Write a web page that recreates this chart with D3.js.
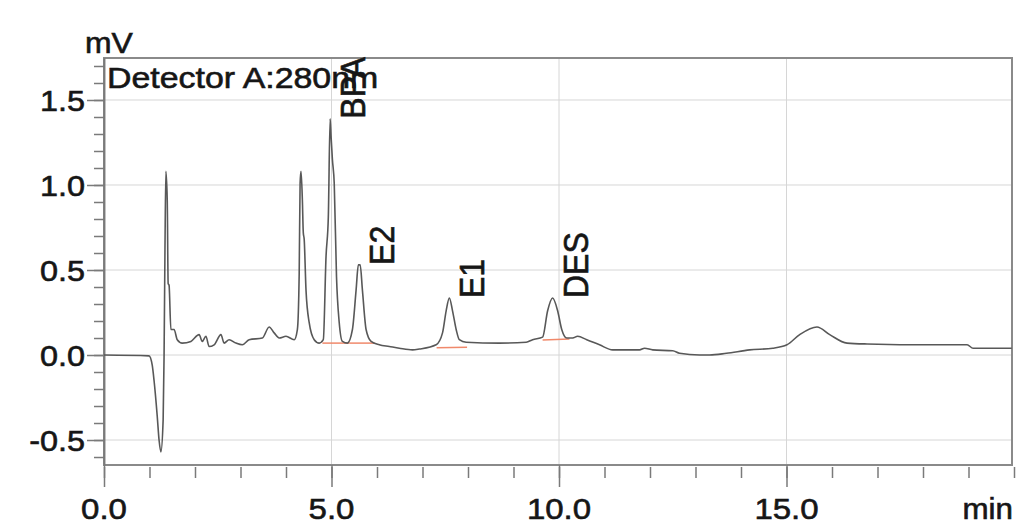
<!DOCTYPE html>
<html>
<head>
<meta charset="utf-8">
<script src="https://cdnjs.cloudflare.com/ajax/libs/d3/7.8.5/d3.min.js"></script>
<style>
body { margin: 0; background: #fff; }
text { font-family: "Liberation Sans", Arial, sans-serif; fill: #161616; stroke: #161616; stroke-width: 0.6; }
.grid line { stroke: #d6d6d6; stroke-width: 1; }
.axis path, .axis line { stroke: #7a7a7a; stroke-width: 1.5; }
.trace { fill: none; stroke: #585858; stroke-width: 1.6; stroke-linejoin: round; }
.base { stroke: #f0896b; stroke-width: 1.5; }
</style>
</head>
<body>
<script>
// Chromatogram trace (min, mV)
var times = [0, 0.99, 1.06, 1.10, 1.17, 1.21, 1.25, 1.30, 1.32, 1.34, 1.36, 1.39, 1.41, 1.43, 1.47,
    1.54, 1.61, 1.72, 1.91, 2.09, 2.16, 2.24, 2.31, 2.42, 2.57, 2.64, 2.75, 2.90, 3.04, 3.19,
    3.48, 3.63, 3.74, 3.85, 4.00, 4.18, 4.25, 4.29, 4.31, 4.33, 4.36, 4.38, 4.40, 4.44, 4.51,
    4.62, 4.73, 4.82, 4.88, 4.93, 4.97, 4.99, 5.02, 5.06, 5.11, 5.17, 5.24, 5.35, 5.46, 5.54,
    5.59, 5.63, 5.68, 5.76, 5.87, 6.05, 6.27, 6.49, 6.78, 6.93, 7.30, 7.44, 7.52, 7.59, 7.66,
    7.74, 7.81, 7.96, 8.69, 9.28, 9.42, 9.64, 9.75, 9.86, 9.97, 10.06, 10.17, 10.30, 10.41,
    10.61, 10.89, 11.18, 11.77, 11.88, 12.06, 12.50, 12.65, 13.09, 13.31, 13.68, 14.19, 14.70,
    15.01, 15.29, 15.67, 15.95, 16.33, 16.77, 18.22, 18.97, 19.10, 19.95];
var signal = [0, -0.005, -0.06, -0.15, -0.36, -0.50, -0.57, -0.38, -0.01, 0.62, 1.08, 0.91, 0.42, 0.41, 0.15,
    0.15, 0.09, 0.07, 0.08, 0.12, 0.08, 0.11, 0.05, 0.06, 0.12, 0.07, 0.09, 0.07, 0.06, 0.09,
    0.10, 0.165, 0.13, 0.10, 0.11, 0.09, 0.15, 0.48, 1.01, 1.08, 0.91, 0.72, 0.68, 0.38, 0.19,
    0.09, 0.07, 0.09, 0.58, 0.81, 1.39, 1.29, 1.15, 1.01, 0.46, 0.19, 0.08, 0.07, 0.15, 0.38,
    0.53, 0.53, 0.38, 0.15, 0.08, 0.06, 0.05, 0.04, 0.03, 0.035, 0.06, 0.13, 0.26, 0.335, 0.26,
    0.15, 0.09, 0.075, 0.07, 0.075, 0.09, 0.105, 0.26, 0.335, 0.26, 0.15, 0.10, 0.10, 0.11,
    0.09, 0.06, 0.03, 0.03, 0.04, 0.03, 0.025, 0.01, 0, 0, 0.01, 0.03, 0.04,
    0.06, 0.12, 0.165, 0.12, 0.07, 0.065, 0.06, 0.06, 0.04, 0.04];

// Peak labels
var peakNames = ["BPA", "E2", "E1", "DES"];
var peakTimes = [4.97, 5.61, 7.59, 9.86];
var peakHeights = [1.39, 0.53, 0.335, 0.335];

// Integration baselines under the peaks
var baseStart = [4.80, 5.40, 7.31, 9.64];
var baseEnd = [5.40, 5.95, 7.98, 10.23];
var baseStartV = [0.07, 0.07, 0.043, 0.088];
var baseEndV = [0.07, 0.07, 0.045, 0.094];

// Tick labels
var xTickValues = [0, 5, 10, 15];
var xTickLabels = ["0.0", "5.0", "10.0", "15.0"];
var yTickValues = [-0.5, 0, 0.5, 1.0, 1.5];
var yTickLabels = ["-0.5", "0.0", "0.5", "1.0", "1.5"];

var width = 1017, height = 526;
var plot = {left: 104, right: 1012, top: 58, bottom: 465};

// Set the ranges
var x = d3.scaleLinear().domain([0, 20]).range([104, 1014]);
var y = d3.scaleLinear().domain([-0.647, 1.747]).range([plot.bottom, plot.top]);

var svg = d3.select("body")
    .append("svg")
        .attr("width", width)
        .attr("height", height);

// grid lines
var grid = svg.append("g").attr("class", "grid");
grid.selectAll(".gy")
    .data(yTickValues)
    .enter().append("line")
    .attr("x1", plot.left).attr("x2", plot.right)
    .attr("y1", function(d) { return y(d); })
    .attr("y2", function(d) { return y(d); });
grid.selectAll(".gx")
    .data(xTickValues.slice(1))
    .enter().append("line")
    .attr("y1", plot.top).attr("y2", plot.bottom)
    .attr("x1", function(d) { return x(d); })
    .attr("x2", function(d) { return x(d); });

// frame
svg.append("rect")
    .attr("x", plot.left)
    .attr("y", plot.top)
    .attr("width", plot.right - plot.left)
    .attr("height", plot.bottom - plot.top)
    .style("fill", "none")
    .style("stroke", "#8a8a8a")
    .style("stroke-width", 2);

// Y axis: minor ticks every 0.1, major every 0.5
svg.append("g")
    .attr("class", "axis")
    .attr("transform", "translate(" + plot.left + ",0)")
    .call(d3.axisLeft(y).tickValues(d3.range(-6, 18).map(function(i) { return i / 10; }))
        .tickSize(10).tickSizeOuter(0).tickFormat(""));
svg.append("g")
    .attr("class", "axis")
    .attr("transform", "translate(" + plot.left + ",0)")
    .call(d3.axisLeft(y).tickValues(yTickValues).tickSize(17).tickSizeOuter(0).tickFormat(""));

// X axis: minor ticks every minute, major every 5
svg.append("g")
    .attr("class", "axis")
    .attr("transform", "translate(0," + (plot.bottom + 2) + ")")
    .call(d3.axisBottom(x).tickValues(d3.range(0, 21)).tickSize(11).tickSizeOuter(0).tickFormat(""))
    .select(".domain").remove();
svg.append("g")
    .attr("class", "axis")
    .attr("transform", "translate(0," + plot.bottom + ")")
    .call(d3.axisBottom(x).tickValues(xTickValues).tickSize(22).tickSizeOuter(0).tickFormat(""))
    .select(".domain").remove();

// tick labels
svg.selectAll(".ylab")
    .data(yTickValues)
    .enter().append("text")
    .attr("transform", function(d) { return "translate(85," + (y(d) + 11) + ") scale(1.08,1)"; })
    .style("text-anchor", "end")
    .style("font-size", "30px")
    .text(function(d, i) { return yTickLabels[i]; });

svg.selectAll(".xlab")
    .data(xTickValues)
    .enter().append("text")
    .attr("transform", function(d) { return "translate(" + x(d) + ",519) scale(1.1,1)"; })
    .style("text-anchor", "middle")
    .style("font-size", "30px")
    .text(function(d, i) { return xTickLabels[i]; });

// unit labels
svg.append("text")
    .attr("transform", "translate(85,53) scale(1.1,1)")
    .style("font-size", "29px")
    .text("mV");
svg.append("text")
    .attr("transform", "translate(1013,519) scale(1.08,1)")
    .style("text-anchor", "end")
    .style("font-size", "29px")
    .text("min");

svg.append("text")
    .attr("transform", "translate(107,88) scale(1.13,1)")
    .style("font-size", "30px")
    .text("Detector A:280nm");

// integration baselines
svg.selectAll(".base")
    .data(baseStart)
    .enter().append("line")
    .attr("class", "base")
    .attr("x1", function(d) { return x(d); })
    .attr("x2", function(d, i) { return x(baseEnd[i]); })
    .attr("y1", function(d, i) { return y(baseStartV[i]); })
    .attr("y2", function(d, i) { return y(baseEndV[i]); });

// the trace
var valueline = d3.line()
    .curve(d3.curveMonotoneX)
    .x(function(d) { return x(d); })
    .y(function(d, i) { return y(signal[i]); });

svg.append("path")
    .attr("class", "trace")
    .attr("d", valueline(times));

// peak names, rotated, just right of each apex
svg.selectAll(".peak")
    .data(peakNames)
    .enter().append("text")
    .attr("transform", function(d, i) {
        return "translate(" + (x(peakTimes[i]) + 35) + "," + y(peakHeights[i]) + ") scale(1.1,1) rotate(-90)";
    })
    .style("font-size", "32px")
    .text(function(d) { return d; });
</script>
</body>
</html>
